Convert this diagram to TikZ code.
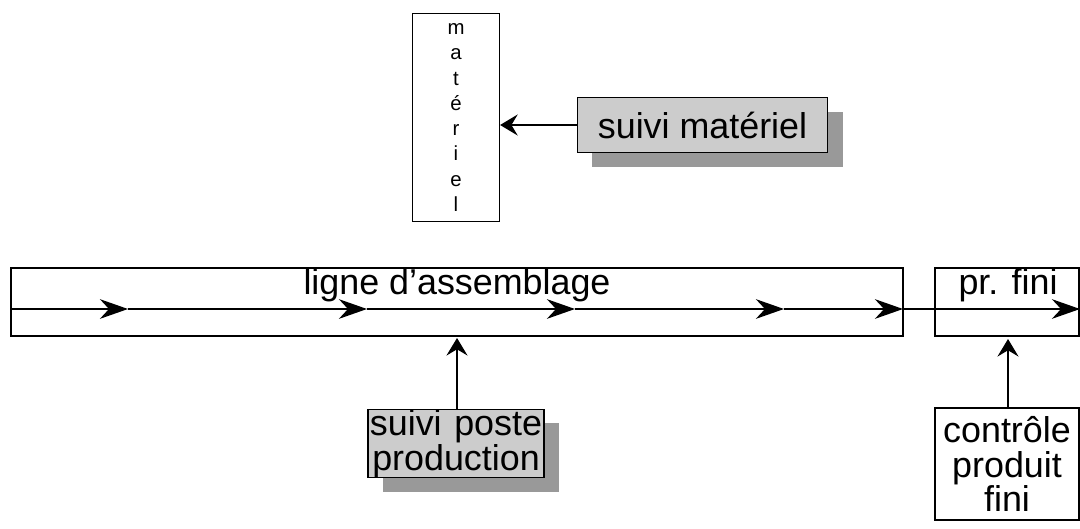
\documentclass[tikz,border=0pt]{standalone}
\usepackage{fontspec}
\setmainfont{Liberation Sans}
\usetikzlibrary{positioning, arrows.meta, shadows}

\begin{document}
\begin{tikzpicture}[x=0.025cm,y=-0.025cm,line width=0.9pt]
    \tikzstyle{block} = [rectangle,draw=black,fill=white,inner sep=0pt,text centered]
    \tikzstyle{suivi} = [block,fill=black!20,drop shadow={shadow xshift=0.375cm,shadow yshift=-0.35cm,fill=black!40,opacity=1}]
    \tikzstyle{big} = [font=\fontsize{25.5}{25.5}\selectfont]
    \tikzstyle{flow} = [-{Stealth[length=20pt,width=14pt,inset=6.5pt]}]
    \tikzstyle{feed} = [-{Stealth[length=12.5pt,width=15pt,inset=4.5pt]}]

    \useasboundingbox (0,0) rectangle (1080,528);

    % stock
    \node (mat) [block,minimum width=2.175cm,minimum height=5.2cm,align=center,
        font=\fontsize{14.5}{18}\selectfont] at (456,117.5) {m\\a\\t\\é\\r\\i\\e\\l};

    \node (smat) [suivi,big,minimum width=6.25cm,minimum height=1.375cm] at (702.5,125) {suivi matériel};
    \draw [feed] (smat.west) -- (smat.west -| mat.east);

    % line
    \node (ligne) [block,minimum width=22.3cm,minimum height=1.7cm] at (457,302) {};
    \node (lignetxt) [big,anchor=base] at (457,294) {ligne d’assemblage};

    \node (fini) [block,minimum width=3.6cm,minimum height=1.7cm] at (1007,302) {};
    \node (finitxt) [big,anchor=base] at (1008,294) {pr. fini};

    \foreach \n/\x in {0/10,1/128,2/367,3/575,4/784,5/903,6/1080}
        \coordinate (p\n) at (\x,309);
    \foreach \a/\b in {0/1,1/2,2/3,3/4,4/5,5/6}
        \draw [flow] (p\a) -- (p\b);

    % controls
    \node (poste) [suivi,big,minimum width=4.4cm,minimum height=1.675cm,align=center,
        font=\fontsize{25.5}{23.4}\selectfont] at (456,443.5)
        {\makebox[4.3cm][s]{suivi\hfill poste}\\production};
    \coordinate (posteup) at (457,338);
    \draw [feed] (poste.north -| posteup) -- (posteup);

    \node (ctrl) [block,minimum width=3.6cm,minimum height=2.8cm,align=center,
        font=\fontsize{25.5}{24.8}\selectfont] at (1007,464) {contrôle\\produit\\fini};
    \coordinate (ctrlup) at (1008,339);
    \draw [feed] (ctrl.north -| ctrlup) -- (ctrlup);

\end{tikzpicture}
\end{document}
